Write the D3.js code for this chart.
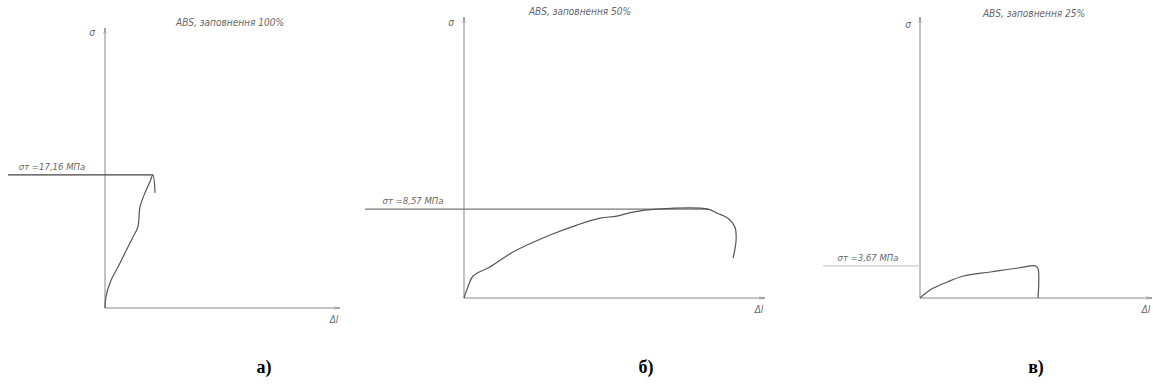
<!DOCTYPE html>
<html>
<head>
<meta charset="utf-8">
<script src="https://cdn.jsdelivr.net/npm/d3@7"></script>
<style>
  body { margin: 0; background: #fff; }
  .note { font-family: "DejaVu Sans Condensed", "DejaVu Sans", sans-serif; font-style: italic; fill: #666; }
  .cap { font-family: "Liberation Serif", serif; font-weight: bold; font-size: 18px; fill: #000; }
</style>
</head>
<body>
<div id="chart"></div>
<script>
// strain values are relative (Δl), stress in MPa
var titles = ['ABS, заповнення 100%', 'ABS, заповнення 50%', 'ABS, заповнення 25%'];
var captions = ['а)', 'б)', 'в)'];
var yieldVals = [17.16, 8.57, 3.67];
var yieldLabels = ['σт =17,16 МПа', 'σт =8,57 МПа', 'σт =3,67 МПа'];

var curveA = [[0,0],[0.04,1.42],[0.21,3.23],[0.64,5.81],[1.19,9.16],[1.40,10.45],
              [1.49,13.03],[1.70,14.84],[1.91,16.26],[2.04,17.16],[2.13,14.84]];
var curveB = [[0,0],[0.13,1.06],[0.30,2.12],[0.86,2.99],[1.63,4.43],[2.86,6.07],
              [3.75,7.03],[4.52,7.70],[5.08,7.90],[5.61,8.28],[6.41,8.57],[8.11,8.57],
              [8.41,8.18],[8.77,7.70],[9.00,6.84],[9.04,5.59],[8.94,3.85]];
var curveC = [[0,0],[0.43,0.92],[1.17,1.83],[1.87,2.52],[3.04,2.98],[4.22,3.44],
              [5.0,3.67],[5.09,3.33],[5.09,0]];
var curves = [curveA, curveB, curveC];

var width = 1153, height = 385;
var svg = d3.select('#chart').append('svg')
    .attr('width', width)
    .attr('height', height);

svg.append('defs').append('marker')
    .attr('id', 'arr')
    .attr('viewBox', '0 0 10 10')
    .attr('refX', 10).attr('refY', 5)
    .attr('markerWidth', 10).attr('markerHeight', 6)
    .attr('orient', 'auto')
    .append('path')
    .attr('d', 'M0,3L10,5L0,7')
    .attr('fill', 'none')
    .attr('stroke', '#888')
    .attr('stroke-width', 1);

// panel layout: origin, axis extents, y domain, yield line start, title position
var panels = [
    { x0: 105, x1: 340, yBase: 308, yTop: 28, yMax: 36.1, lineFrom: 8, lineTo: 2.04,
      lineCol: '#444', titleX: 230, titleY: 26, labX: 52, capX: 264, sigX: 92, sigY: 36, dlY: 323 },
    { x0: 464, x1: 765, yBase: 298, yTop: 17, yMax: 27.1, lineFrom: 365, lineTo: 8.11,
      lineCol: '#777', titleX: 580, titleY: 15, labX: 413, capX: 646, sigX: 451, sigY: 26, dlY: 313 },
    { x0: 920, x1: 1152, yBase: 298, yTop: 17, yMax: 32.2, lineFrom: 823, lineTo: 0,
      lineCol: '#ccc', titleX: 1034, titleY: 17, labX: 868, capX: 1036, sigX: 908, sigY: 28, dlY: 313 }
];

panels.forEach(function(p, i) {
    var x = d3.scaleLinear().domain([0, 10]).range([p.x0, p.x1]);
    var y = d3.scaleLinear().domain([0, p.yMax]).range([p.yBase, p.yTop]);
    var g = svg.append('g');

    // axes
    g.append('line')
        .attr('x1', x(0)).attr('y1', y(0))
        .attr('x2', x(10)).attr('y2', y(0))
        .attr('stroke', '#888').attr('stroke-width', 1)
        .attr('marker-end', 'url(#arr)');
    g.append('line')
        .attr('x1', x(0)).attr('y1', y(0))
        .attr('x2', x(0)).attr('y2', y(p.yMax))
        .attr('stroke', '#888').attr('stroke-width', 1)
        .attr('marker-end', 'url(#arr)');

    // yield line
    g.append('line')
        .attr('x1', p.lineFrom).attr('y1', y(yieldVals[i]))
        .attr('x2', x(p.lineTo)).attr('y2', y(yieldVals[i]))
        .attr('stroke', p.lineCol).attr('stroke-width', 1.2);

    // curve
    g.append('path')
        .datum(curves[i])
        .attr('d', d3.line()
            .x(function(d) { return x(d[0]); })
            .y(function(d) { return y(d[1]); })
            .curve(d3.curveCatmullRom))
        .attr('fill', 'none')
        .attr('stroke', '#555')
        .attr('stroke-width', 1.2);

    g.append('text').attr('class', 'note')
        .attr('x', p.titleX).attr('y', p.titleY)
        .attr('text-anchor', 'middle').style('font-size', '10px')
        .text(titles[i]);
    g.append('text').attr('class', 'note')
        .attr('x', p.labX).attr('y', y(yieldVals[i]) - 5)
        .attr('text-anchor', 'middle').style('font-size', '9.5px')
        .text(yieldLabels[i]);
    g.append('text').attr('class', 'note')
        .attr('x', p.sigX).attr('y', p.sigY)
        .attr('text-anchor', 'middle').style('font-size', '10px')
        .text('σ');
    g.append('text').attr('class', 'note')
        .attr('x', x(10) - 6).attr('y', p.dlY)
        .attr('text-anchor', 'middle').style('font-size', '10px')
        .text('Δl');
    g.append('text').attr('class', 'cap')
        .attr('x', p.capX).attr('y', 373)
        .attr('text-anchor', 'middle')
        .text(captions[i]);
});
</script>
</body>
</html>
